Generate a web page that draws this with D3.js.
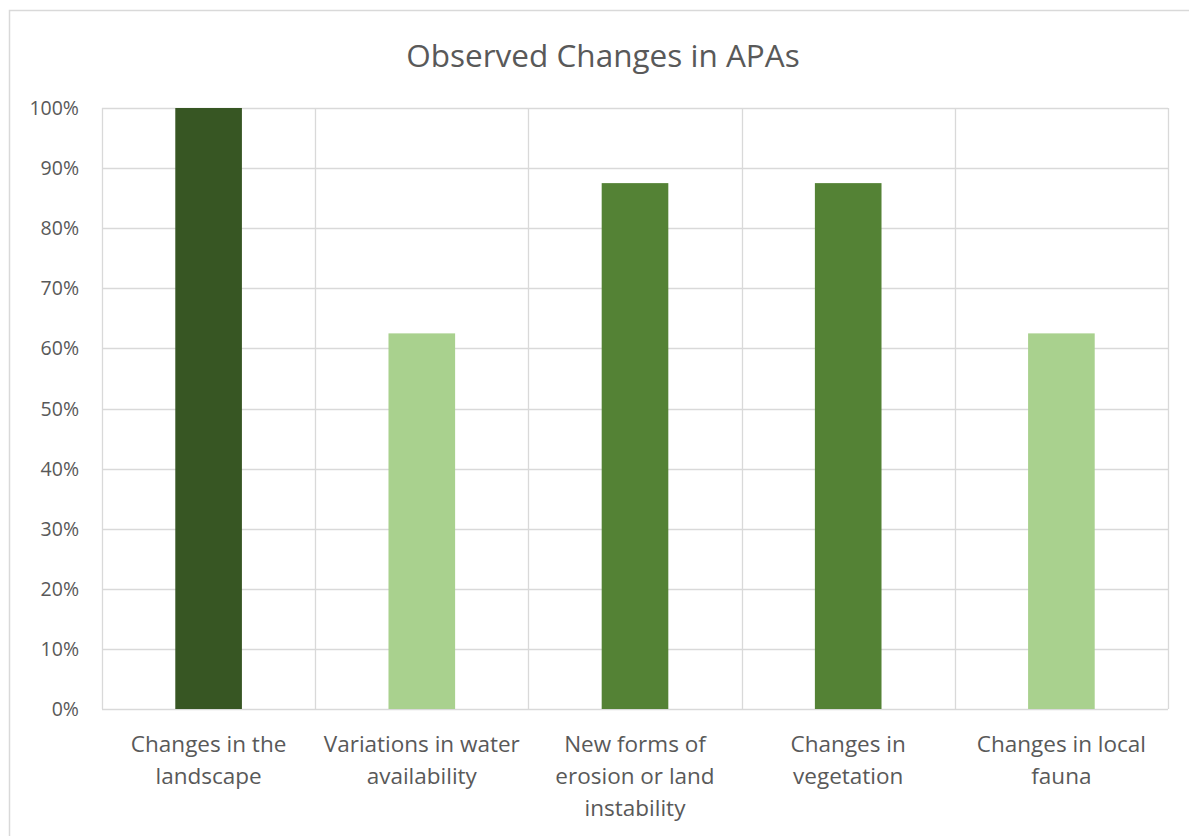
<!DOCTYPE html>
<html>
<head>
<meta charset="utf-8">
<script src="https://cdn.jsdelivr.net/npm/d3@7"></script>
<style>
  body { margin: 0; background: #fff; }
  svg { display: block; font-family: "Open Sans", "Noto Sans", sans-serif; }
</style>
</head>
<body>
<div id="chart"></div>
<script>
// data
const categories = ["landscape", "water", "erosion", "vegetation", "fauna"];
const categoryLabels = [
  ["Changes in the", "landscape"],
  ["Variations in water", "availability"],
  ["New forms of", "erosion or land", "instability"],
  ["Changes in", "vegetation"],
  ["Changes in local", "fauna"]
];
const values = [1.0, 0.625, 0.875, 0.875, 0.625];
const barColors = ["#375623", "#a9d18e", "#548235", "#548235", "#a9d18e"];
const yTicks = [0, 0.1, 0.2, 0.3, 0.4, 0.5, 0.6, 0.7, 0.8, 0.9, 1.0];

const W = 1189, H = 836;
const plot = { left: 102, top: 108, right: 1168, bottom: 709 };

const svg = d3.select("#chart").append("svg")
  .attr("width", W)
  .attr("height", H);

// chart border
svg.append("rect")
  .attr("x", 9.5).attr("y", 10.5)
  .attr("width", 1200).attr("height", 900)
  .attr("fill", "#fff")
  .attr("stroke", "#d9d9d9")
  .attr("stroke-width", 1.5);

// title
svg.append("text")
  .attr("x", 603).attr("y", 67)
  .attr("text-anchor", "middle")
  .attr("fill", "#595959")
  .style("font-size", "31.5px")
  .text("Observed Changes in APAs");

const x = d3.scaleBand()
  .domain(categories)
  .range([plot.left, plot.right])
  .paddingInner(0.6875)
  .paddingOuter(0.34375);

const y = d3.scaleLinear()
  .domain([0, 1])
  .range([plot.bottom, plot.top]);

const step = x.step();

// horizontal gridlines
svg.append("g")
  .selectAll("line")
  .data(yTicks)
  .join("line")
  .attr("x1", plot.left).attr("x2", plot.right)
  .attr("y1", d => Math.round(y(d)) + 0.5)
  .attr("y2", d => Math.round(y(d)) + 0.5)
  .attr("stroke", "#d9d9d9")
  .attr("stroke-width", 1.3);

// vertical gridlines at category boundaries
const bounds = categories.map(c => x(c) - step * x.paddingInner() / 2);
bounds.push(plot.right);
svg.append("g")
  .selectAll("line")
  .data(bounds)
  .join("line")
  .attr("x1", d => Math.round(d) + 0.5).attr("x2", d => Math.round(d) + 0.5)
  .attr("y1", plot.top).attr("y2", plot.bottom)
  .attr("stroke", "#d9d9d9")
  .attr("stroke-width", 1.3);

// bars
svg.append("g")
  .selectAll("rect")
  .data(values)
  .join("rect")
  .attr("x", (d, i) => x(categories[i]))
  .attr("width", x.bandwidth())
  .attr("y", d => y(d))
  .attr("height", d => y(0) - y(d))
  .attr("fill", (d, i) => barColors[i]);

// y axis labels
svg.append("g")
  .selectAll("text")
  .data(yTicks)
  .join("text")
  .attr("x", 79)
  .attr("y", d => y(d) + 7)
  .attr("text-anchor", "end")
  .attr("fill", "#595959")
  .style("font-size", "19.5px")
  .text(d => d3.format(".0%")(d));

// x axis labels
const xl = svg.append("g")
  .selectAll("text")
  .data(categoryLabels)
  .join("text")
  .attr("text-anchor", "middle")
  .attr("fill", "#595959")
  .style("font-size", "22.5px");

xl.each(function(lines, i) {
  const cx = x(categories[i]) + x.bandwidth() / 2;
  d3.select(this).selectAll("tspan")
    .data(lines)
    .join("tspan")
    .attr("x", cx)
    .attr("y", (d, j) => 752 + j * 32)
    .text(d => d);
});
</script>
</body>
</html>
